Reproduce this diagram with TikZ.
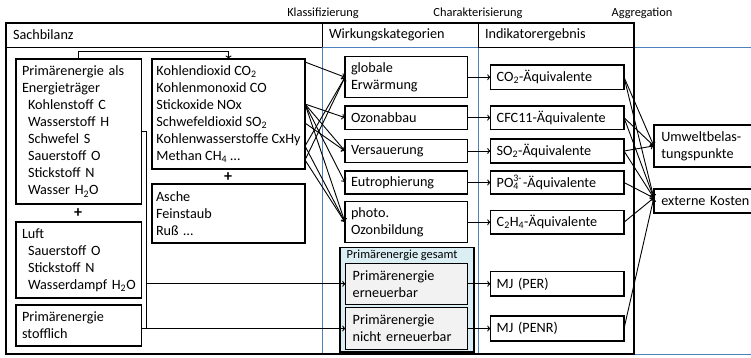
\documentclass[tikz,border=0pt]{standalone}
\usepackage{fontspec}
\setmainfont{Carlito}
\usetikzlibrary{arrows.meta}
\definecolor{colblue}{RGB}{79,129,189}
\definecolor{grpfill}{RGB}{218,238,243}
\definecolor{pefill}{RGB}{242,242,242}
\newcommand\mainsize{\fontsize{14.2}{17}\selectfont}
\newcommand\smallsize{\fontsize{12.4}{15}\selectfont}
\newcommand\ind{\hspace*{6pt}}
\begin{document}
\begin{tikzpicture}[x=1pt,y=-1pt,
  every node/.style={inner sep=0pt, outer sep=0pt},
  frame/.style={line width=2pt},
  rule/.style={line width=1pt},
  colrule/.style={draw=colblue, line width=0.8pt},
  cell/.style={draw, line width=1.5pt, align=left, inner xsep=6pt, inner ysep=0pt, font=\mainsize, fill=white},
  sbcell/.style={cell, text width=113.7pt},
  emcell/.style={cell, inner xsep=4pt, text width=145pt},
  emwide/.style={cell, inner xsep=0pt, minimum width=153pt},
  catcell/.style={cell, text width=110.7pt},
  pecell/.style={cell, inner xsep=7pt, text width=108pt, fill=pefill},
  indcell/.style={cell, text width=121.3pt},
  aggcell/.style={cell, inner xsep=7.5pt, text width=97pt},
  group/.style={draw, line width=1.5pt, fill=grpfill, minimum width=134pt, minimum height=104.7pt},
  steplabel/.style={font=\smallsize},
  headlabel/.style={font=\mainsize, anchor=west},
  plus/.style={font=\fontsize{16}{18}\selectfont\bfseries},
  link/.style={line width=0.9pt},
  arr/.style={link, -{To[length=3.5pt,width=6pt]}},
]
\useasboundingbox (0,0) rectangle (751,357);

% column rules in blue
\draw[colrule] (322,47) rectangle (478,354);
\draw[colrule] (634,47) -- (760,47) (634,47) -- (634,354) (634,354) -- (760,354);

% outer frame and header row
\draw[frame] (6,23) rectangle (634,354);
\draw[rule] (6,47) -- (322,47) (478,47) -- (634,47);
\draw[rule] (322,23) -- (322,47) (478,23) -- (478,47);

% step labels above the frame
\node[steplabel] (kl) at (323,13.5) {Klassifizierung};
\node[steplabel] (ch) at (478,13.5) {Charakterisierung};
\node[steplabel] (ag) at (642,13.5) {Aggregation};

% column headers
\node[headlabel] (hs) at (13,35) {Sachbilanz};
\node[headlabel] (hw) at (329,35) {Wirkungskategorien};
\node[headlabel] (hi) at (485,35) {Indikatorergebnis};

% inventory
\node[sbcell, minimum height=145pt] (A) at (78.85,131.5)
  {Primärenergie als\\Energieträger\\\ind Kohlenstoff C\\\ind Wasserstoff H\\\ind Schwefel S\\\ind Sauerstoff O\\\ind Stickstoff N\\\ind Wasser H\textsubscript{2}O};
\node[plus] (p1) at (78,213) {+};
\node[sbcell, minimum height=76pt] (B) at (78.85,260)
  {Luft\\\ind Sauerstoff O\\\ind Stickstoff N\\\ind Wasserdampf H\textsubscript{2}O};
\node[sbcell, minimum height=41pt] (C) at (78.85,325.5)
  {Primärenergie\\stofflich};
\node[emwide, minimum height=110pt] (D) at (228.5,114)
  {Kohlendioxid CO\textsubscript{2}\\Kohlenmonoxid CO\\Stickoxide NOx\\Schwefeldioxid SO\textsubscript{2}\\Kohlenwasserstoffe CxHy\\Methan CH\textsubscript{4} …};
\node[plus] (p2) at (228,177) {+};
\node[emcell, minimum height=59pt] (E) at (228.5,213.5)
  {Asche\\Feinstaub\\Ruß …};

% impact categories
\node[catcell, minimum height=41pt] (K1) at (406.35,77.2) {globale\\Erwärmung};
\node[catcell, minimum height=23.4pt] (K2) at (406.35,117.65) {Ozonabbau};
\node[catcell, minimum height=23.4pt] (K3) at (406.35,151) {Versauerung};
\node[catcell, minimum height=23.4pt] (K4) at (406.35,182.5) {Eutrophierung};
\node[catcell, minimum height=41pt] (K5) at (406.35,222.2) {photo.\\Ozonbildung};
\node[group] (G) at (407,299.65) {};
\node[steplabel, anchor=west] (GL) at (346.7,255.5) {Primärenergie gesamt};
\node[pecell, minimum height=41pt] (P1) at (406.7,283.8) {Primärenergie\\erneuerbar};
\node[pecell, minimum height=41.6pt] (P2) at (406.7,328.5) {Primärenergie\\nicht erneuerbar};

% indicator results
\node[indcell, minimum height=24.3pt] (I1) at (557.35,77.2) {CO\textsubscript{2}-Äquivalente};
\node[indcell, minimum height=23.4pt] (I2) at (557.35,117.65) {CFC11-Äquivalente};
\node[indcell, minimum height=24.4pt] (I3) at (557.35,151) {SO\textsubscript{2}-Äquivalente};
\node[indcell, minimum height=23.4pt] (I4) at (557.35,182.5) {PO\rlap{\textsubscript{4}}\textsuperscript{3-}\kern1pt-Äquivalente};
\node[indcell, minimum height=23.4pt] (I5) at (557.35,222.2) {C\textsubscript{2}H\textsubscript{4}-Äquivalente};
\node[indcell, minimum height=24.3pt] (I6) at (557.35,283.8) {MJ (PER)};
\node[indcell, minimum height=24.7pt] (I7) at (557.35,328.5) {MJ (PENR)};

% aggregated results
\node[aggcell, minimum height=41.7pt] (U) at (709.8,145.9) {Umweltbelas-\\tungspunkte};
\node[aggcell, minimum height=23.7pt] (X) at (709.8,200.9) {externe Kosten};

% inventory flows
\draw[arr] (A.north) -- ++(0,-8) -| (D.north);
\coordinate (bus) at (146.7,328.5);
\draw[link] (A.east) -| (bus);
\draw[arr] (bus |- P1.west) -- (P1.west);
\draw[arr] (C.east |- P2.west) -- (P2.west);

% classification
\draw[arr] (D.east |- 0,62) -- (K1.west);
\draw[arr] (D.east |- 0,146) -- (K1.west);
\draw[arr] (D.east |- 0,160) -- (K1.west);
\foreach \k in {K2,K3,K4,K5} \draw[arr] (D.east |- 0,104) -- (\k.west);
\draw[arr] (D.east |- 0,123) -- (K3.west);
\draw[arr] (D.east |- 0,146) -- (K5.west);
\draw[arr] (D.east |- 0,160) -- (K5.west);

% characterisation
\foreach \k/\i in {K1/I1,K2/I2,K3/I3,K4/I4,K5/I5,P1/I6,P2/I7}
  \draw[arr] (\k.east) -- (\k.east -| \i.west);

% aggregation
\foreach \i in {I1,I2,I3} \draw[arr] (\i.east) -- (U.west);
\foreach \i in {I1,I2,I3,I4,I5,I7} \draw[arr] (\i.east) -- ([yshift=3pt]X.west);
\end{tikzpicture}
\end{document}
